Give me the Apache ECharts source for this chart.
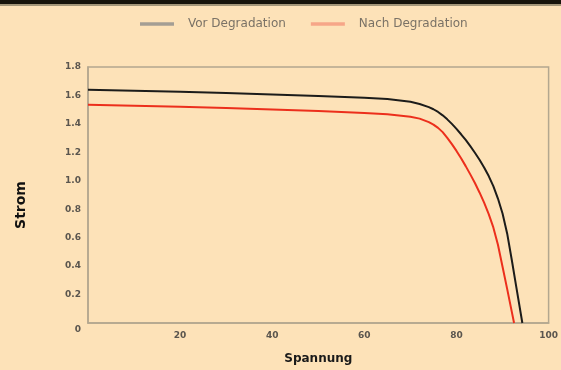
<!DOCTYPE html>
<html><head><meta charset="utf-8">
<script src="https://cdn.jsdelivr.net/npm/echarts@6/dist/echarts.min.js"></script>
<style>html,body{margin:0;padding:0;background:#fde2b8;}#c{width:561px;height:370px;}</style>
</head><body><div id="c"></div>
<script>
const seriesNames = ['Vor Degradation', 'Nach Degradation'];
const xTicks = [0, 20, 40, 60, 80, 100];
const yTicks = [0, 0.2, 0.4, 0.6, 0.8, 1.0, 1.2, 1.4, 1.6, 1.8];
const vorVoltage = [0, 10, 20, 30, 40, 50, 60, 65, 70, 72, 74, 75, 76, 77, 78, 79, 80, 81, 82, 83, 84, 85, 86, 87, 88, 89, 90, 91, 92, 93, 94.3];
const vorCurrent = [1.64, 1.633, 1.626, 1.618, 1.607, 1.596, 1.584, 1.575, 1.556, 1.540, 1.518, 1.503, 1.484, 1.46, 1.432, 1.40, 1.365, 1.327, 1.287, 1.243, 1.197, 1.148, 1.094, 1.033, 0.962, 0.875, 0.77, 0.63, 0.445, 0.25, 0];
const nachVoltage = [0, 10, 20, 30, 40, 50, 60, 65, 70, 72, 74, 75, 76, 77, 78, 79, 80, 81, 82, 83, 84, 85, 86, 87, 88, 89, 90, 91, 92, 92.5];
const nachCurrent = [1.534, 1.527, 1.52, 1.512, 1.501, 1.49, 1.477, 1.468, 1.45, 1.437, 1.412, 1.395, 1.372, 1.342, 1.302, 1.258, 1.21, 1.158, 1.103, 1.045, 0.984, 0.918, 0.846, 0.766, 0.672, 0.55, 0.395, 0.24, 0.08, 0];

const zip = (a, b) => a.map((v, i) => [v, b[i]]);
const chart = echarts.init(document.getElementById('c'), null, {renderer: 'canvas'});
const lblFont = {fontFamily: 'DejaVu Sans', fontSize: 9, color: '#5a554e', fontWeight: 'bold'};
chart.setOption({
  backgroundColor: '#fde2b8',
  animation: false,
  graphic: [
    {type: 'rect', shape: {x: 0, y: 0, width: 561, height: 4}, style: {fill: '#17140b'}},
    {type: 'rect', shape: {x: 0, y: 4, width: 561, height: 2}, style: {fill: '#a39679'}}
  ],
  legend: {
    left: 135, top: 13, itemWidth: 34, itemHeight: 10, itemGap: 25,
    textStyle: {fontFamily: 'DejaVu Sans', fontSize: 12, color: '#7a7266', padding: [0, 0, 0, 9]},
    data: [
      {name: seriesNames[0], icon: 'path://M0,0L10,0L10,1L0,1Z', itemStyle: {color: '#a49e94'}},
      {name: seriesNames[1], icon: 'path://M0,0L10,0L10,1L0,1Z', itemStyle: {color: '#f6a688'}}
    ]
  },
  grid: {left: 88, right: 8, top: 67, bottom: 44, show: true, borderColor: '#b3a78f', borderWidth: 1.5, backgroundColor: 'transparent'},
  xAxis: {
    type: 'value', min: xTicks[0], max: xTicks[xTicks.length - 1], interval: 20,
    name: 'Spannung', nameLocation: 'middle', nameGap: 30,
    nameTextStyle: {fontFamily: 'DejaVu Sans', fontSize: 12, fontWeight: 'bold', color: '#1a1a1a'},
    axisLine: {lineStyle: {color: '#b3a78f', width: 1.5}},
    axisTick: {show: false}, splitLine: {show: false},
    axisLabel: Object.assign({margin: 8, showMinLabel: false}, lblFont)
  },
  yAxis: {
    type: 'value', min: yTicks[0], max: yTicks[yTicks.length - 1], interval: 0.2,
    name: 'Strom', nameLocation: 'middle', nameGap: 60,
    nameTextStyle: {fontFamily: 'DejaVu Sans', fontSize: 14, fontWeight: 'bold', color: '#111', padding: [0, 20, 0, 0]},
    axisLine: {show: true, lineStyle: {color: '#b3a78f', width: 1.5}},
    axisTick: {show: false}, splitLine: {show: false},
    axisLabel: Object.assign({margin: 7,
      formatter: v => v === 0 ? '{z|0}' : v.toFixed(1),
      rich: {z: {fontFamily: 'DejaVu Sans', fontSize: 9, color: '#5a554e', fontWeight: 'bold', padding: [14, 0, 0, 0]}}
    }, lblFont)
  },
  series: [
    {name: seriesNames[0], type: 'line', data: zip(vorVoltage, vorCurrent), smooth: false, showSymbol: false, lineStyle: {color: '#1c1c1a', width: 2, join: 'round'}, itemStyle: {color: '#1c1c1a'}},
    {name: seriesNames[1], type: 'line', data: zip(nachVoltage, nachCurrent), smooth: false, showSymbol: false, lineStyle: {color: '#ec2f1c', width: 2, join: 'round'}, itemStyle: {color: '#ec2f1c'}}
  ]
});
</script></body></html>
